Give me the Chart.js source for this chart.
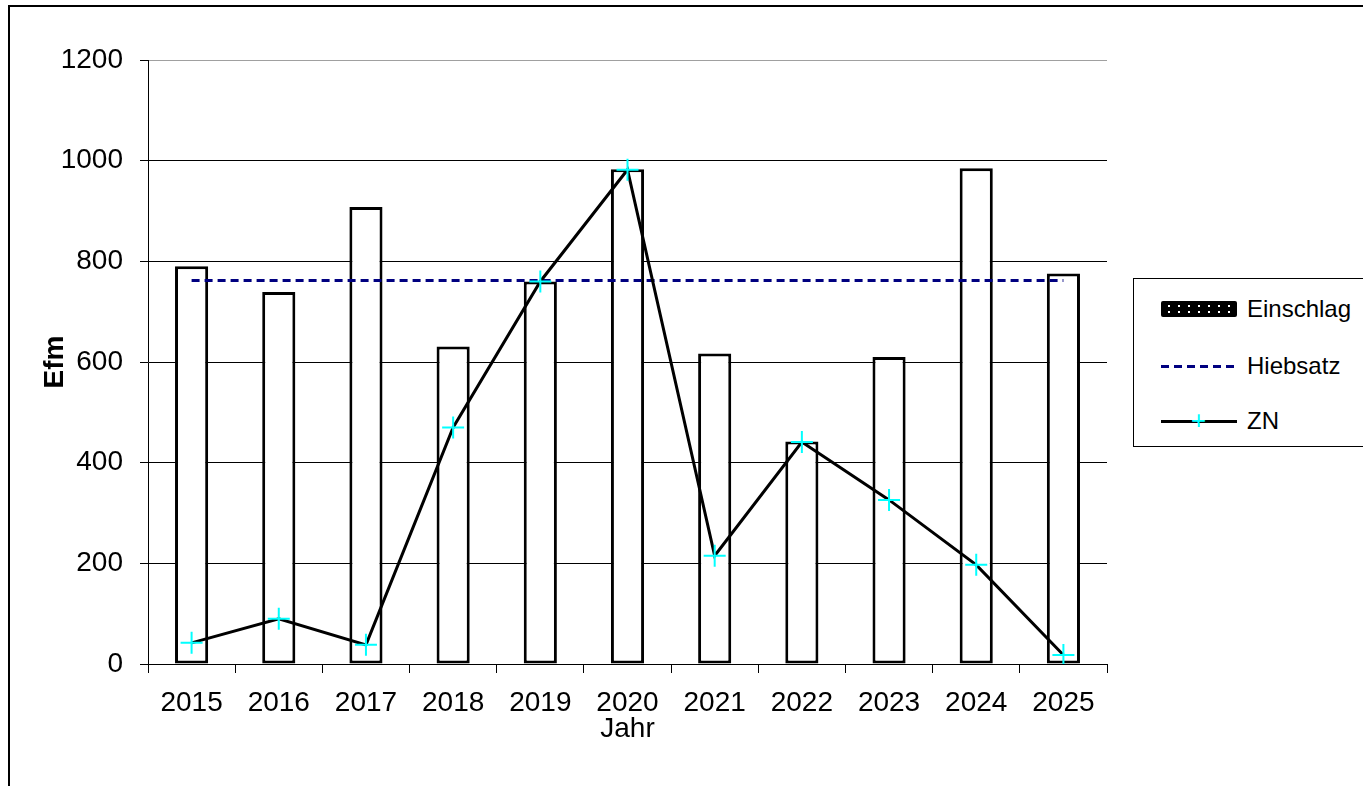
<!DOCTYPE html>
<html>
<head>
<meta charset="utf-8">
<script src="https://cdn.jsdelivr.net/npm/chart.js@4"></script>
<style>
  body { margin: 0; background: #fff; font-family: "Liberation Sans", Arial, sans-serif; }
  #rahmen { position: absolute; left: 8px; top: 5px; width: 1400px; height: 830px; border: 2px solid #000; box-sizing: border-box; }
  #wrap { position: absolute; left: 0; top: 0; width: 1125px; height: 786px; }
  #legende { position: absolute; left: 1133px; top: 278px; width: 260px; height: 169px; border: 1.5px solid #000; box-sizing: border-box; background: #fff; }
  .eintrag { position: absolute; left: 27px; height: 30px; display: flex; align-items: center; font-size: 24px; color: #000; }
  .sym { width: 76px; height: 16px; margin-right: 10px; position: relative; }
  .bar { background-color: #000; background-image: radial-gradient(circle, #fff 1px, transparent 1.3px); background-size: 10px 6px; background-position: 3px 2px; border-radius: 2px; }
  .dash { height: 3px; background: repeating-linear-gradient(90deg, #000080 0 8px, transparent 8px 13px); }
  .zn::before { content: ""; position: absolute; left: 0; right: 0; top: 7px; border-top: 3px solid #000; }
  .zn::after { content: "+"; position: absolute; left: 30px; top: -8px; color: #00ffff; font-size: 26px; }
</style>
</head>
<body>
<div id="rahmen"></div>
<div id="wrap"><canvas id="grafico"></canvas></div>
<div id="legende">
  <div class="eintrag" style="top:15px"><div class="sym bar"></div>Einschlag</div>
  <div class="eintrag" style="top:72px"><div class="sym dash"></div>Hiebsatz</div>
  <div class="eintrag" style="top:127px"><div class="sym zn"></div>ZN</div>
</div>
<script>
const jahre = ['2015', '2016', '2017', '2018', '2019', '2020', '2021', '2022', '2023', '2024', '2025'];
const einschlag = [790, 739, 908, 631, 760, 983, 617, 442, 610, 985, 776];
const hiebsatz = [762, 762, 762, 762, 762, 762, 762, 762, 762, 762, 762];
const zn = [42, 90, 38, 470, 760, 982, 215, 441, 326, 197, 18];

document.addEventListener("DOMContentLoaded", function() {
    zeichneGrafik();
})

function zeichneGrafik() {
    const ctx = document.getElementById('grafico');
    new Chart(ctx, {
      type: 'bar',
      data: {
        labels: jahre,
        datasets: [{
          type: 'line',
          label: 'ZN',
          data: zn,
          borderColor: '#000',
          borderWidth: 3,
          tension: 0,
          pointStyle: 'cross',
          pointRadius: 11,
          pointBorderWidth: 2,
          pointBorderColor: '#00ffff',
          order: 1
        }, {
          type: 'line',
          label: 'Hiebsatz',
          data: hiebsatz,
          borderColor: '#000080',
          borderWidth: 3,
          borderDash: [8, 5],
          pointRadius: 0,
          order: 2
        }, {
          label: 'Einschlag',
          data: einschlag,
          backgroundColor: '#fff',
          borderColor: '#000',
          borderWidth: 3,
          borderSkipped: false,
          barPercentage: 0.38,
          categoryPercentage: 1,
          order: 3
        }]
      },
      options: {
        responsive: true,
        maintainAspectRatio: false,
        animation: false,
        layout: { padding: { top: 60, left: 20, right: 18, bottom: 40 } },
        plugins: { legend: { display: false }, tooltip: { enabled: false } },
        scales: {
          x: {
            offset: true,
            grid: { offset: true, drawOnChartArea: false, color: '#000', tickLength: 9 },
            border: { color: '#000', width: 1 },
            ticks: { color: '#000', font: { size: 28, family: 'Liberation Sans' }, padding: 13, maxRotation: 0 },
            title: { display: true, text: 'Jahr', color: '#000', font: { size: 28, family: 'Liberation Sans' }, padding: 0 },
            afterFit: function(s) { s.height = 82; }
          },
          y: {
            min: 0,
            max: 1200,
            grid: {
              color: c => (c.tick && c.tick.value === 1200) ? '#a0a0a0' : '#000',
              tickColor: '#000',
              tickLength: 8
            },
            border: { color: '#000', width: 1 },
            ticks: { stepSize: 200, color: '#000', font: { size: 28, family: 'Liberation Sans' }, padding: 17,
                     callback: v => String(v) },
            title: { display: true, text: 'Efm', color: '#000', font: { size: 28, weight: 'bold', family: 'Liberation Sans' }, padding: { top: 18, bottom: 0 } },
            afterFit: function(s) { s.width = 128; }
          }
        }
      }
    });
}
</script>
</body>
</html>
